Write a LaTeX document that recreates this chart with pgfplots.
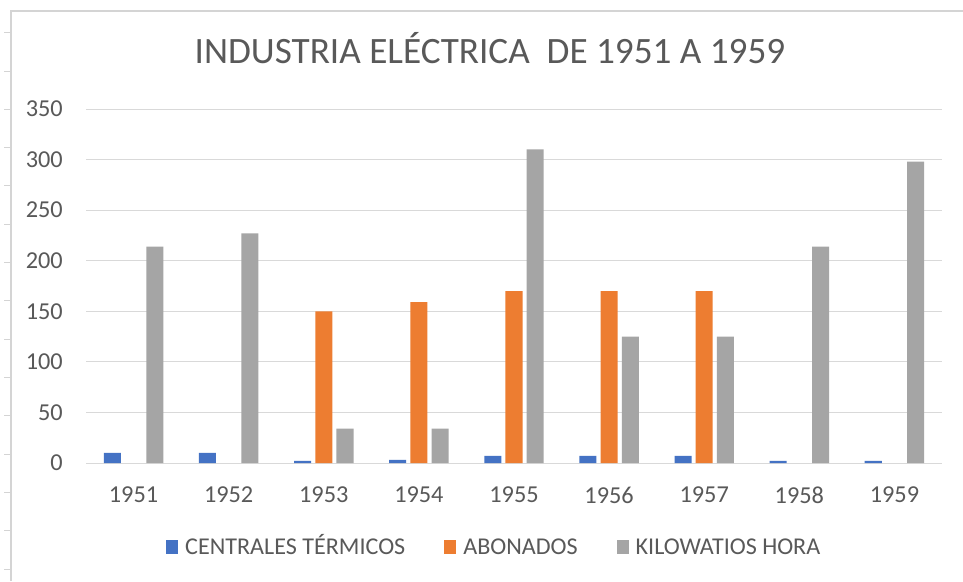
\documentclass[border=0pt]{standalone}
\usepackage{pgfplots}
\pgfplotsset{compat=1.18}
\usepackage{fontspec}
\setmainfont{Carlito}
\definecolor{cBlue}{HTML}{4472C4}
\definecolor{cOrange}{HTML}{ED7D31}
\definecolor{cGray}{HTML}{A5A5A5}
\definecolor{cGrid}{HTML}{D9D9D9}
\definecolor{cText}{HTML}{595959}
\definecolor{cFrame}{HTML}{D4D4D4}
\begin{document}
\begin{tikzpicture}[x=1pt,y=1pt]
\useasboundingbox (0,0) rectangle (963,581);
\fill[white] (0,0) rectangle (963,581);
% sheet frame
\draw[cFrame,line width=1.2pt] (11,0) -- (11,570) -- (963,570);
\foreach \k in {0,...,14}{
  \draw[cFrame,line width=1pt] (4,{581-32.8-38.3*\k}) -- (11,{581-32.8-38.3*\k});
}
\node[anchor=base,text=cText,inner sep=0pt,font=\fontsize{37.2}{42}\selectfont] at (490,517) {INDUSTRIA ELÉCTRICA\ \ DE 1951 A 1959};
\begin{axis}[
  at={(86pt,118pt)}, anchor=south west,
  scale only axis, width=856pt, height=354pt,
  xmin=-0.5, xmax=8.5, ymin=0, ymax=350,
  xtick={0,...,8},
  xticklabels={1951,1952,1953,1954,1955,1956,1957,1958,1959},
  ytick={0,50,...,350},
  ymajorgrids, grid style={cGrid,line width=1pt},
  axis x line*=bottom, axis y line*=left,
  x axis line style={cGrid,line width=1pt,-},
  y axis line style={draw=none},
  major tick length=0pt, tick style={draw=none},
  /pgf/number format/assume math mode=true,
  ticklabel style={font=\fontsize{24.3}{28}\selectfont, text=cText, inner sep=0pt},
  xticklabel style={yshift=-24pt, anchor=north},
  yticklabel style={xshift=-23pt, anchor=east},
  legend columns=3,
  legend style={draw=none, fill=none, at={(0.0935,-0.231)}, anchor=west,
    inner sep=0pt, font=\fontsize{24.1}{28}\selectfont, text=cText,
    nodes={inner sep=0pt},
    /tikz/every odd column/.append style={column sep=7pt},
    /tikz/every even column/.append style={column sep=39pt}},
  legend image code/.code={\fill[#1] (0pt,-9pt) rectangle (12pt,4.3pt);},
]
\addplot[ybar, bar width=0.179, bar shift=-0.223, fill=cBlue, draw=none]
  coordinates {(0,10) (1,10) (2,2) (3,3) (4,7) (5,7) (6,7) (7,2) (8,2)};
\addlegendentry{\vphantom{É}CENTRALES TÉRMICOS}
\addplot[ybar, bar width=0.179, bar shift=0, fill=cOrange, draw=none]
  coordinates {(2,150) (3,159) (4,170) (5,170) (6,170)};
\addlegendentry{\vphantom{É}ABONADOS}
\addplot[ybar, bar width=0.179, bar shift=0.223, fill=cGray, draw=none]
  coordinates {(0,214) (1,227) (2,34) (3,34) (4,310) (5,125) (6,125) (7,214) (8,298)};
\addlegendentry{\vphantom{É}KILOWATIOS HORA}
\end{axis}
\end{tikzpicture}
\end{document}
